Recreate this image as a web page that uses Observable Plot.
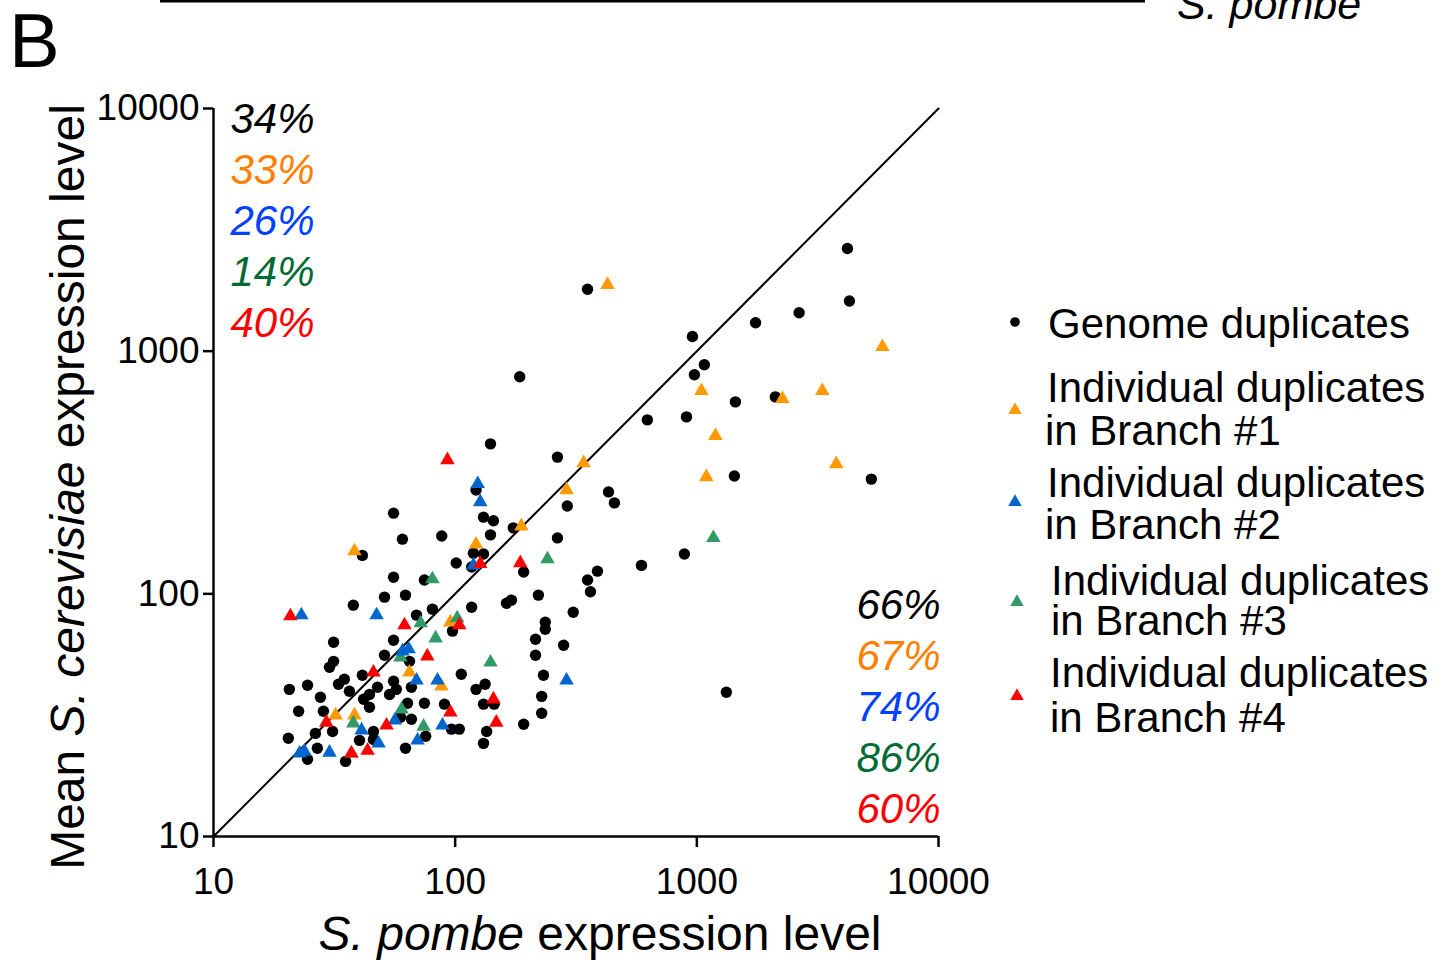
<!DOCTYPE html>
<html><head><meta charset="utf-8">
<script src="https://cdn.jsdelivr.net/npm/d3@7"></script>
<script src="https://cdn.jsdelivr.net/npm/@observablehq/plot@0.6"></script>
<style>
html,body{margin:0;padding:0;background:#fff;}
#chart{position:relative;width:1454px;height:960px;overflow:hidden;}
#chart svg{position:absolute;left:0;top:0;}
</style></head><body><div id="chart"></div>
<script>
// ---- data ----
const axisTicks = [10, 100, 1000, 10000];

const genomeX = [140,265,291,131,144,140,174,88,265,55.6,60.5,41.3,119,131,101,117,55.6,74.6,192,51,62.3,37.9,69.2,80.5,117,221,163,171,353,363,388,308,97.5,236,236,215,215,281,55.6,31.4,31.4,30.2,51,64.7,106,232,228,228,192,41.3,34.8,32.9,36.5,20.6,24.5,27.7,22.5,28.5,44.2,41.8,44.2,47.7,55.6,57.1,53.5,65.9,63.5,74.6,90.3,122,133,131,145,65.9,59.4,31.1,26.4,20.4,26.9,24.5,35.2,40.2,45.9,45.9,62.3,75.5,96.5,104,135,131,353,4200,4280,1750,2650,959,1074,977,1444,2113,185,624,906,1430,5272,431,456,122,888,590,1325];
const genomeY = [415,366,230,207,200,175,187,173,170,215,168,144,147,146,134,129,117,114,123,96.9,98.8,89.8,81.7,86.5,88.1,98.8,91.5,94.2,114,102,124,84,70.2,76.4,71.5,65,55.8,61.4,64.4,63.2,52.7,49.8,55.8,52.7,46.6,46.2,37.8,32.2,29,46.2,44.5,42.4,39.7,40.4,42,37.5,32.8,32.8,38.5,36.8,34.1,41.2,43.6,40.4,38.5,41.2,35.4,35.4,35.1,40.4,42.4,35.1,35.1,30.4,31,27.1,26.6,25.4,23.1,20.8,20.4,24.9,27.1,25.1,23.1,25.9,27.7,27.7,27.1,24.2,1800,2650,1610,1310,1440,1150,879,799,618,648,784,521,536,306,297,263,237,268,146,131,39.3];

const branch1X = [427,5861,1045,2259,3305,1194,1095,3776,340,289,188,122,38.3,95.5,64.7,87.7,32.0,38.3];
const branch1Y = [1879,1042,686,636,686,448,303,343,346,268,190,160,150,76.4,47.5,41.6,31.6,31.6];

const branch2X = [124,127,119,23.1,47.3,60.5,64.2,69.2,84.5,289,56.3,41.0,88.6,48.2,69.9,30.2,22.7,23.8];
const branch2Y = [284,239,131,81.7,81.7,58.0,59.2,44.0,44.0,44.0,30.1,27.4,28.7,24.2,24.9,22.2,22.0,22.4];

const branch3X = [241,1171,80.5,72.0,102,83.0,59.4,140,60.0,37.9,74.0,37.2];
const branch3Y = [139,170,115,75.7,79.4,65.6,54.8,52.2,33.4,29.3,28.4,22.0];

const branch4X = [92.9,186,127,20.8,61.7,104,76.7,45.9,144,95.5,29.3,52.0,148,37.2,43.4];
const branch4Y = [356,134,133,80.9,74.3,74.3,55.3,47.5,36.8,32.5,29.5,28.7,29.5,22.0,22.6];

const pctAbove = ["34%", "33%", "26%", "14%", "40%"];
const pctBelow = ["66%", "67%", "74%", "86%", "60%"];
const pctColors = ["#000000", "#ff7f00", "#0040ff", "#006b33", "#ff0000"];
const markerColors = ["#000000", "#ff9900", "#0066cc", "#339966", "#ff0000"];
const legendLabels = [["Genome duplicates"], ["Individual duplicates", "in Branch #1"], ["Individual duplicates", "in Branch #2"], ["Individual duplicates", "in Branch #3"], ["Individual duplicates", "in Branch #4"]];

// ---- build ----
const font = "'Liberation Sans', Arial, Helvetica, sans-serif";
const series = (xs, ys) => xs.map((x, i) => ({x, y: ys[i]}));
const domain = [axisTicks[0], axisTicks[axisTicks.length - 1]];
const diagonal = domain.map(v => ({x: v, y: v}));

const pctMarks = [];
pctAbove.forEach((t, i) => pctMarks.push(Plot.text([t], {
  text: d => d, frameAnchor: "top-left", textAnchor: "end", lineAnchor: "middle", dx: 101, dy: 11 + i * 51,
  fill: pctColors[i], fontSize: 42, fontStyle: "italic"
})));
pctBelow.forEach((t, i) => pctMarks.push(Plot.text([t], {
  text: d => d, frameAnchor: "bottom-right", textAnchor: "end", lineAnchor: "middle", dx: 2, dy: -27 - (pctBelow.length - 1 - i) * 51,
  fill: pctColors[i], fontSize: 42, fontStyle: "italic"
})));

const plot = Plot.plot({
  width: 1454, height: 960,
  marginLeft: 213, marginRight: 516, marginTop: 108, marginBottom: 124,
  style: {fontFamily: font, fontSize: "37px", background: "white", color: "black", overflow: "visible"},
  x: {type: "log", domain},
  y: {type: "log", domain},
  marks: [
    Plot.ruleX([domain[0]], {stroke: "black", strokeWidth: 2.5}),
    Plot.ruleY([domain[0]], {stroke: "black", strokeWidth: 2.5}),
    Plot.axisX({ticks: axisTicks, tickFormat: d => String(d), tickSize: 11, tickPadding: 20, strokeWidth: 2.5, label: null, fontSize: 37}),
    Plot.axisY({ticks: axisTicks, tickFormat: d => String(d), tickSize: 10, tickPadding: 4, strokeWidth: 2.5, label: null, fontSize: 37}),
    Plot.line(diagonal, {x: "x", y: "y", stroke: "black", strokeWidth: 2}),
    Plot.dot(series(genomeX, genomeY), {x: "x", y: "y", r: 5.7, fill: markerColors[0]}),
    Plot.dot(series(branch1X, branch1Y), {x: "x", y: "y", r: 5.4, symbol: "triangle", fill: markerColors[1]}),
    Plot.dot(series(branch3X, branch3Y), {x: "x", y: "y", r: 5.4, symbol: "triangle", fill: markerColors[3]}),
    Plot.dot(series(branch2X, branch2Y), {x: "x", y: "y", r: 5.4, symbol: "triangle", fill: markerColors[2]}),
    Plot.dot(series(branch4X, branch4Y), {x: "x", y: "y", r: 5.4, symbol: "triangle", fill: markerColors[4]}),
    ...pctMarks
  ]
});
document.getElementById("chart").appendChild(plot);

// ---- titles, panel letter, legend ----
const svg = d3.select(plot);
const T = svg.append("g").attr("font-family", font).attr("fill", "black").attr("text-anchor", "start");

// y title
const yt = T.append("text").attr("transform", "translate(84,487) rotate(-90)")
  .attr("text-anchor", "middle").attr("font-size", 48);
yt.append("tspan").text("Mean ");
yt.append("tspan").attr("font-style", "italic").text("S. cerevisiae");
yt.append("tspan").text(" expression level");

// x title
const xt = T.append("text").attr("x", 600).attr("y", 950).attr("text-anchor", "middle").attr("font-size", 48);
xt.append("tspan").attr("font-style", "italic").text("S. pombe");
xt.append("tspan").text(" expression level");

// panel letter and remnant of panel above
T.append("text").attr("x", 9).attr("y", 67).attr("font-size", 76).text("B");
T.append("line").attr("x1", 160).attr("x2", 1145).attr("y1", 1).attr("y2", 1).attr("stroke", "black").attr("stroke-width", 3);
T.append("text").attr("x", 1177).attr("y", 19).attr("font-size", 43).attr("font-style", "italic").text("S. pombe");

// legend
const legendRows = [
  {mx: 1015, my: 322, tx: 1048, ty: [338]},
  {mx: 1015, my: 410, tx: 1047, ty: [402, 445]},
  {mx: 1015, my: 502, tx: 1047, ty: [497, 539]},
  {mx: 1017, my: 602, tx: 1051, ty: [595, 635]},
  {mx: 1017, my: 696, tx: 1050, ty: [687, 732]}
];
legendLabels.forEach((lines, i) => {
  const r = legendRows[i];
  const sym = i === 0 ? d3.symbol(d3.symbolCircle, Math.PI * 4.8 * 4.8) : d3.symbol(d3.symbolTriangle, Math.PI * 5 * 5);
  T.append("path").attr("d", sym()).attr("transform", `translate(${r.mx},${r.my})`).attr("fill", markerColors[i]);
  lines.forEach((line, j) => {
    T.append("text").attr("x", r.tx - (j === 1 && i < 3 ? 2 : 0)).attr("y", r.ty[j]).attr("font-size", 42).text(line);
  });
});
</script></body></html>
